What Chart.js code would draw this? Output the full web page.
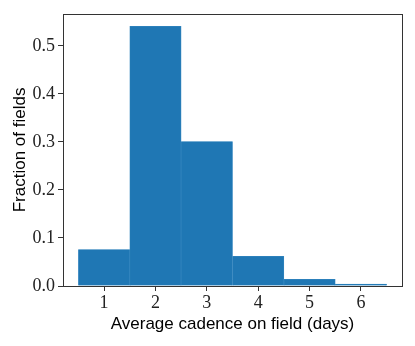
<!DOCTYPE html>
<html lang="en">
<head>
    <meta charset="UTF-8">
    <script src="https://cdn.jsdelivr.net/npm/chart.js"></script>
    <title>Average cadence on field</title>
    <style>
        html, body { margin: 0; padding: 0; background: #fff; }
        #box { width: 415px; height: 346px; }
    </style>
</head>
<body>
    <div id="box">
        <canvas id="grafico"></canvas>
    </div>
</body>
</html>

<script>
    // bin centres (days) and fraction of fields in each bin
    var cadencia = [1, 2, 3, 4, 5, 6]
    var fracao = [0.076, 0.541, 0.301, 0.062, 0.014, 0.004]
    var ticksX = [1, 2, 3, 4, 5, 6]
    var ticksY = [0.0, 0.1, 0.2, 0.3, 0.4, 0.5]

    // box around the plot area, like matplotlib's spines
    var moldura = {
        id: 'moldura',
        afterDatasetsDraw(chart) {
            var a = chart.chartArea
            var ctx = chart.ctx
            ctx.save()
            ctx.strokeStyle = '#333'
            ctx.lineWidth = 1
            ctx.strokeRect(Math.round(a.left) + 0.5, Math.round(a.top) + 0.5,
                Math.round(a.right - a.left), Math.round(a.bottom - a.top))
            ctx.restore()
        }
    }

    var grafico = new Chart(document.getElementById('grafico').getContext('2d'), {
        type: 'bar',
        data: {
            datasets: [{
                data: cadencia.map((x, i) => ({ x: x, y: fracao[i] })),
                backgroundColor: '#1f77b4',
                borderColor: '#3a8ac2',
                borderWidth: 0.6,
                barPercentage: 1,
                categoryPercentage: 1
            }]
        },
        options: {
            responsive: true,
            maintainAspectRatio: false,
            animation: false,
            layout: { padding: { left: 0, right: 13, top: 13, bottom: 0 } },
            plugins: {
                legend: { display: false },
                tooltip: { enabled: false }
            },
            scales: {
                x: {
                    type: 'linear',
                    offset: false,
                    min: 0.2,
                    max: 6.8,
                    afterBuildTicks: (s) => { s.ticks = ticksX.map(v => ({ value: v })) },
                    afterFit: (s) => { s.height = 60 },
                    grid: { drawOnChartArea: false, drawTicks: true, tickLength: 5, color: '#333', offset: false },
                    border: { display: false },
                    ticks: {
                        color: '#222',
                        padding: 1,
                        maxRotation: 0,
                        font: { family: 'Liberation Serif', size: 18 }
                    },
                    title: {
                        display: true,
                        text: 'Average cadence on field (days)',
                        color: '#000',
                        padding: { top: 0, bottom: 11 },
                        font: { family: 'Liberation Sans', size: 17 }
                    }
                },
                y: {
                    min: 0,
                    max: 0.567,
                    afterBuildTicks: (s) => { s.ticks = ticksY.map(v => ({ value: v })) },
                    afterFit: (s) => { s.width = 63 },
                    grid: { drawOnChartArea: false, drawTicks: true, tickLength: 5, color: '#333' },
                    border: { display: false },
                    ticks: {
                        color: '#222',
                        padding: 3,
                        callback: (v) => v.toFixed(1),
                        font: { family: 'Liberation Serif', size: 18 }
                    },
                    title: {
                        display: true,
                        text: 'Fraction of fields',
                        color: '#000',
                        padding: { top: 10, bottom: 0 },
                        font: { family: 'Liberation Sans', size: 17 }
                    }
                }
            }
        },
        plugins: [moldura]
    });
</script>
